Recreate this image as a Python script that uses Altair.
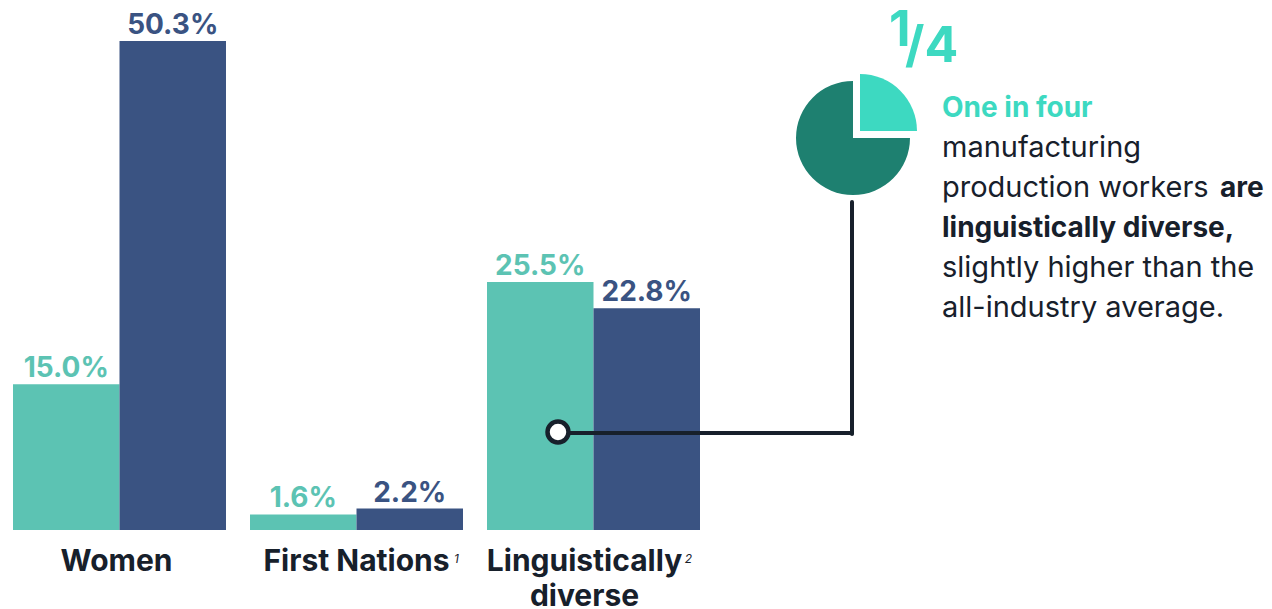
import altair as alt
import pandas as pd

# ---- data ----
categories = ["Women", "First Nations", "Linguistically diverse"]
series = ["Manufacturing production workers", "All industries"]
manufacturing = [15.0, 1.6, 25.5]
all_industries = [50.3, 2.2, 22.8]
cat_labels = ["Women", "First Nations", "Linguistically\ndiverse"]
footnotes = ["", "1", "2"]
pie_parts = ["Linguistically diverse", "Other"]
pie_shares = [0.25, 0.75]
callout_head = "One in four"
callout_lines = ["manufacturing", "production workers", "linguistically diverse,",
                 "slightly higher than the", "all-industry average."]
callout_bold_tail = "are"

TEAL = "#5cc3b3"
NAVY = "#3a5382"
PIE_DARK = "#1e8070"
PIE_LIGHT = "#3dd9c1"
DARK = "#17202b"
F = "Inter"

rows = []
for c, m, a in zip(categories, manufacturing, all_industries):
    rows.append({"category": c, "series": series[0], "value": m, "label": f"{m:.1f}%"})
    rows.append({"category": c, "series": series[1], "value": a, "label": f"{a:.1f}%"})
df = pd.DataFrame(rows)

cat_df = pd.DataFrame({"category": categories, "text": cat_labels, "note": footnotes})

pie_df = pd.DataFrame({"part": pie_parts, "share": pie_shares})
pie_df["end"] = pie_df["share"].cumsum()
pie_df["start"] = pie_df["end"] - pie_df["share"]

one = pd.DataFrame({"k": [0]})

x_enc = alt.X("category:N", sort=categories,
              scale=alt.Scale(domain=categories, range=[5, 692],
                              paddingInner=0.1013, paddingOuter=0),
              axis=None)
xoff = alt.XOffset("series:N", sort=series,
                   scale=alt.Scale(domain=series, paddingInner=0, paddingOuter=0))
y_enc = alt.Y("value:Q", scale=alt.Scale(domain=[0, 53.7], range=[522, 0], nice=False),
              axis=None)
color = alt.Color("series:N", scale=alt.Scale(domain=series, range=[TEAL, NAVY]), legend=None)

bars = alt.Chart(df).mark_bar().encode(x=x_enc, xOffset=xoff, y=y_enc, color=color)
vals = alt.Chart(df).mark_text(font=F, fontWeight="bold", fontSize=28, dy=-7,
                               baseline="alphabetic").encode(
    x=x_enc, xOffset=xoff, y=y_enc, text="label:N", color=color)

layers = [bars, vals]

# category labels
label_dx = {"Women": -3, "First Nations": 0, "Linguistically diverse": -9}
note_dx = {"First Nations": 100, "Linguistically diverse": 95}
for c in categories:
    layers.append(
        alt.Chart(cat_df).transform_filter(alt.datum.category == c).mark_text(
            font=F, fontWeight="bold", fontSize=30, baseline="alphabetic",
            lineBreak="\n", lineHeight=35, color=DARK, dx=label_dx[c]).encode(
            x=alt.X("category:N", sort=categories, axis=None), y=alt.value(563), text="text:N"))
    if c in note_dx:
        layers.append(
            alt.Chart(cat_df).transform_filter(alt.datum.category == c).mark_text(
                font=F, fontStyle="italic", fontSize=12, baseline="alphabetic",
                color=DARK, dx=note_dx[c]).encode(
                x=alt.X("category:N", sort=categories, axis=None), y=alt.value(555), text="note:N"))

# pie (exploded quarter)
theta = alt.Theta("start:Q", scale=alt.Scale(domain=[0, 1], range=[0, 6.283185307]))
pie_other = alt.Chart(pie_df).transform_filter(alt.datum.part == "Other").mark_arc(
    radius=57, color=PIE_DARK).encode(theta=theta, theta2="end:Q",
                                       x=alt.value(845), y=alt.value(130))
pie_lang = alt.Chart(pie_df).transform_filter(alt.datum.part == "Linguistically diverse").mark_arc(
    radius=57, color=PIE_LIGHT).encode(theta=theta, theta2="end:Q",
                                        x=alt.value(852), y=alt.value(123))
layers += [pie_other, pie_lang]

# connector
layers.append(alt.Chart(one).mark_rule(strokeWidth=4, color=DARK, strokeCap="round").encode(
    x=alt.value(844), y=alt.value(194), y2=alt.value(426)))
layers.append(alt.Chart(one).mark_rule(strokeWidth=4, color=DARK, strokeCap="round").encode(
    x=alt.value(550), x2=alt.value(844), y=alt.value(425)))
layers.append(alt.Chart(one).mark_point(shape="circle", filled=True, fill="white", stroke=DARK,
                                        strokeWidth=4.5, size=440, opacity=1).encode(
    x=alt.value(550), y=alt.value(424)))

# 1/4
layers.append(alt.Chart(one).mark_text(font=F, fontWeight="bold", fontSize=50, align="left",
                                       baseline="alphabetic", color=PIE_LIGHT).encode(
    x=alt.value(881), y=alt.value(38), text=alt.value("1")))
layers.append(alt.Chart(one).mark_text(font=F, fontWeight="bold", fontSize=50, align="left",
                                       baseline="alphabetic", color=PIE_LIGHT).encode(
    x=alt.value(897), y=alt.value(54), text=alt.value("/4")))

# callout text
TX = 934
FS = 29
layers.append(alt.Chart(one).mark_text(font=F, fontWeight="bold", fontSize=28, align="left",
                                       baseline="alphabetic", color=PIE_LIGHT).encode(
    x=alt.value(TX), y=alt.value(109), text=alt.value(callout_head)))
for i, line in enumerate(callout_lines):
    bold = (i == 2)
    layers.append(alt.Chart(one).mark_text(font=F, fontWeight="bold" if bold else "normal",
                                           fontSize=FS if not bold else 28, align="left",
                                           baseline="alphabetic", color=DARK).encode(
        x=alt.value(TX), y=alt.value(149 + 40 * i), text=alt.value(line)))
layers.append(alt.Chart(one).mark_text(font=F, fontWeight="bold", fontSize=28, align="left",
                                       baseline="alphabetic", color=DARK).encode(
    x=alt.value(1212), y=alt.value(189), text=alt.value(callout_bold_tail)))

chart = alt.layer(*layers).properties(
    width=1256, height=601, padding=0, background="white",
    autosize=alt.AutoSizeParams(type="none")
).configure_view(stroke=None)

chart.save("out.html", embed_options={"renderer": "svg", "actions": False})
